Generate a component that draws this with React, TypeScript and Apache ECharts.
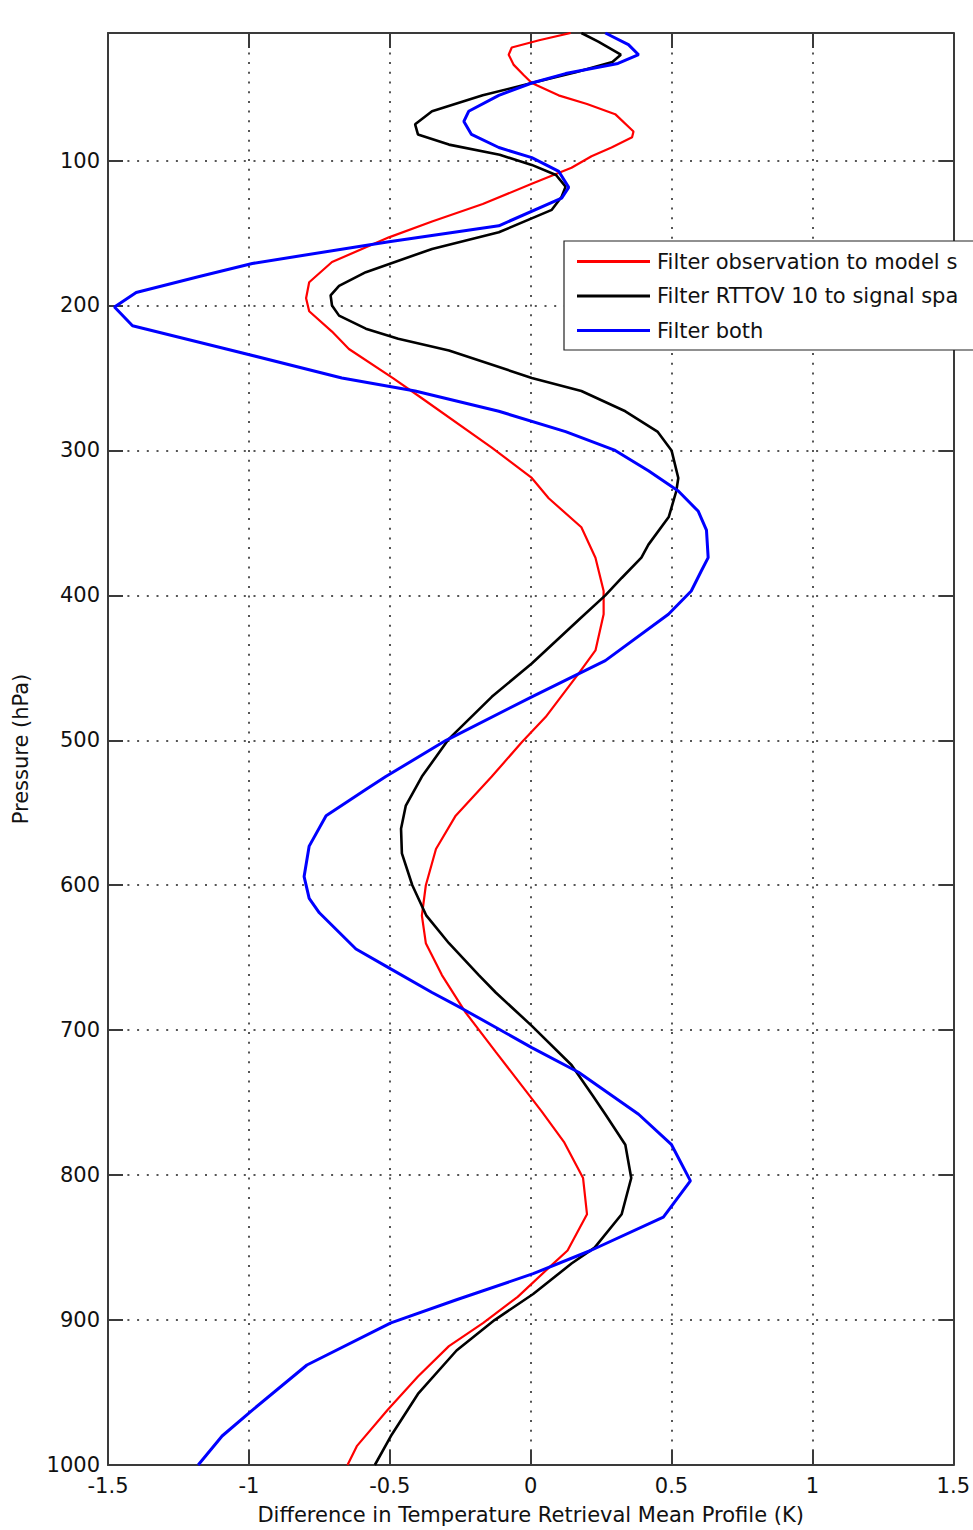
import React, { useEffect, useRef } from "react";
import * as echarts from "echarts";

const seriesNames = [
  "Filter observation to model space",
  "Filter RTTOV 10 to signal space",
  "Filter both",
];
const seriesColors = ["#ff0000", "#000000", "#0000ff"];

const pressureTicks = [100, 200, 300, 400, 500, 600, 700, 800, 900, 1000];

// [temperature difference (K), pressure (hPa)]
const redProfile: [number, number][] = [
  [0.142, 12], [0.03, 17], [-0.067, 22], [-0.078, 27], [-0.06, 34], [-0.025, 41],
  [0.004, 46.5], [0.099, 55], [0.2, 61], [0.3, 68], [0.365, 80], [0.36, 84],
  [0.287, 91], [0.216, 97], [0.145, 105], [0.004, 116], [-0.17, 130], [-0.35, 142],
  [-0.503, 153], [-0.705, 170], [-0.786, 184], [-0.797, 195], [-0.786, 204],
  [-0.705, 218], [-0.645, 230], [-0.49, 250], [-0.386, 264], [-0.138, 298],
  [0.004, 319], [0.064, 333], [0.18, 353], [0.23, 374], [0.259, 397], [0.259, 413],
  [0.23, 438], [0.17, 454], [0.053, 484], [-0.03, 501], [-0.138, 525], [-0.266, 552],
  [-0.336, 575], [-0.372, 600], [-0.386, 621], [-0.372, 640], [-0.315, 662],
  [-0.23, 688], [-0.124, 715], [0.039, 756], [0.118, 777], [0.186, 802], [0.2, 827],
  [0.131, 852], [0.064, 864], [-0.046, 884], [-0.168, 902], [-0.29, 918], [-0.4, 939],
  [-0.508, 962], [-0.617, 987], [-0.65, 1000],
];

const blackProfile: [number, number][] = [
  [0.18, 12], [0.24, 18], [0.32, 27], [0.29, 32], [0.16, 39], [0.004, 46.5],
  [-0.17, 55], [-0.35, 66], [-0.41, 75], [-0.4, 82], [-0.29, 89], [-0.11, 96],
  [0.004, 103], [0.09, 110], [0.124, 118], [0.11, 125], [0.075, 134], [-0.113, 149.5],
  [-0.35, 161], [-0.585, 177], [-0.68, 186.5], [-0.71, 193], [-0.705, 200],
  [-0.68, 207], [-0.585, 216], [-0.47, 223], [-0.29, 231], [0.004, 250], [0.18, 259],
  [0.336, 273], [0.45, 287], [0.5, 300], [0.524, 319], [0.517, 328], [0.49, 346],
  [0.418, 365], [0.393, 374], [0.323, 388], [0.265, 400], [0.17, 417], [0.004, 447],
  [-0.138, 470], [-0.29, 499], [-0.386, 525], [-0.443, 545], [-0.46, 561],
  [-0.457, 578], [-0.42, 600], [-0.37, 621], [-0.29, 640], [-0.184, 662],
  [-0.124, 674], [0.004, 697], [0.145, 724], [0.22, 745], [0.265, 758], [0.336, 779],
  [0.357, 802], [0.323, 827], [0.227, 850], [0.145, 861], [0.009, 882], [-0.128, 900],
  [-0.263, 921], [-0.4, 951], [-0.496, 980], [-0.553, 1000],
];

const blueProfile: [number, number][] = [
  [0.265, 12], [0.347, 20], [0.383, 27], [0.31, 33], [0.124, 40], [0.004, 46.5],
  [-0.113, 55], [-0.22, 66], [-0.237, 73], [-0.21, 82], [-0.113, 91], [0.004, 98],
  [0.1, 107.5], [0.135, 118.5], [0.11, 126], [-0.113, 145], [-0.503, 156],
  [-0.988, 171], [-1.176, 180], [-1.4, 191], [-1.477, 201], [-1.413, 214],
  [-1.08, 230], [-0.67, 250], [-0.41, 259], [-0.113, 273], [0.124, 287], [0.3, 300],
  [0.418, 314], [0.524, 328], [0.595, 342], [0.624, 355], [0.63, 374], [0.606, 383],
  [0.57, 397], [0.489, 413], [0.265, 445], [0.004, 470], [-0.3, 500], [-0.514, 525],
  [-0.585, 534], [-0.726, 552], [-0.786, 573], [-0.804, 594], [-0.786, 609],
  [-0.75, 619], [-0.62, 644], [-0.503, 657], [-0.35, 674], [-0.244, 685],
  [0.004, 712], [0.17, 729], [0.383, 758], [0.5, 779], [0.567, 804], [0.471, 829],
  [0.213, 852], [0.009, 868], [-0.263, 886], [-0.496, 902], [-0.794, 931],
  [-0.999, 964], [-1.095, 980], [-1.18, 1000],
];

const profiles = [redProfile, blackProfile, blueProfile];
const lineWidths = [2.2, 2.6, 3];

const FONT = "DejaVu Sans";
const AXIS_COLOR = "#3a3a3a";
const GRID_LINE = { color: "#555", width: 2, type: [2, 7.7] as number[] };

export default function App() {
  const ref = useRef<HTMLDivElement>(null);

  useEffect(() => {
    document.body.style.margin = "0";
    if (!ref.current) return;
    const chart = echarts.init(ref.current, null, { renderer: "svg" });

    const xCommon = {
      type: "value" as const,
      min: -1.5,
      max: 1.5,
      interval: 0.5,
    };
    const yCommon = {
      type: "value" as const,
      min: 12,
      max: 1000,
      inverse: true,
    };

    chart.setOption({
      animation: false,
      backgroundColor: "#ffffff",
      textStyle: { fontFamily: FONT },
      grid: { left: 108, right: 18, top: 33, bottom: 58, containLabel: false },
      legend: {
        orient: "vertical",
        left: 564,
        top: 241,
        data: seriesNames.map((name) => ({ name, icon: "rect" })),
        backgroundColor: "#ffffff",
        borderColor: "#222",
        borderWidth: 1.2,
        borderRadius: 0,
        padding: [10, 80, 9, 13],
        itemWidth: 73,
        itemHeight: 3,
        itemGap: 13.5,
        textStyle: {
          fontFamily: FONT,
          fontSize: 21,
          color: "#111",
          padding: [0, 0, 0, 2],
          width: 312,
          overflow: "truncate",
          ellipsis: "",
        },
      },
      xAxis: [
        {
          ...xCommon,
          position: "bottom",
          name: "Difference in Temperature Retrieval Mean Profile (K)",
          nameLocation: "middle",
          nameGap: 39,
          nameTextStyle: { fontFamily: FONT, fontSize: 21, color: "#111" },
          axisLine: { onZero: false, lineStyle: { color: AXIS_COLOR, width: 2 } },
          axisTick: { inside: true, length: 15, lineStyle: { color: AXIS_COLOR, width: 2 } },
          axisLabel: { fontFamily: FONT, fontSize: 21, color: "#111", margin: 10 },
          splitLine: { show: true, lineStyle: GRID_LINE },
        },
        {
          ...xCommon,
          position: "top",
          axisLine: { onZero: false, lineStyle: { color: AXIS_COLOR, width: 2 } },
          axisTick: { inside: true, length: 15, lineStyle: { color: AXIS_COLOR, width: 2 } },
          axisLabel: { show: false },
          splitLine: { show: false },
        },
      ],
      yAxis: [
        {
          ...yCommon,
          position: "left",
          name: "Pressure (hPa)",
          nameLocation: "middle",
          nameGap: 77,
          nameTextStyle: { fontFamily: FONT, fontSize: 21, color: "#111" },
          axisLine: { onZero: false, lineStyle: { color: AXIS_COLOR, width: 2 } },
          axisTick: {
            inside: true,
            length: 15,
            customValues: pressureTicks,
            lineStyle: { color: AXIS_COLOR, width: 2 },
          },
          axisLabel: {
            customValues: pressureTicks,
            formatter: (v: number) => String(v),
            fontFamily: FONT,
            fontSize: 21,
            color: "#111",
            margin: 8,
          },
          splitLine: { show: true, customValues: pressureTicks, lineStyle: GRID_LINE },
        },
        {
          ...yCommon,
          position: "right",
          axisLine: { onZero: false, lineStyle: { color: AXIS_COLOR, width: 2 } },
          axisTick: {
            inside: true,
            length: 15,
            customValues: pressureTicks,
            lineStyle: { color: AXIS_COLOR, width: 2 },
          },
          axisLabel: { show: false },
          splitLine: { show: false },
        },
      ],
      series: profiles.map((data, i) => ({
        name: seriesNames[i],
        type: "line",
        xAxisIndex: 0,
        yAxisIndex: 0,
        data,
        symbol: "none",
        smooth: false,
        clip: true,
        lineStyle: { color: seriesColors[i], width: lineWidths[i] },
        itemStyle: { color: seriesColors[i] },
        z: 3 + i,
      })),
    });

    return () => chart.dispose();
  }, []);

  return (
    <div style={{ width: 973, height: 1530, overflow: "hidden" }}>
      <div ref={ref} style={{ width: 973, height: 1530 }} />
    </div>
  );
}
